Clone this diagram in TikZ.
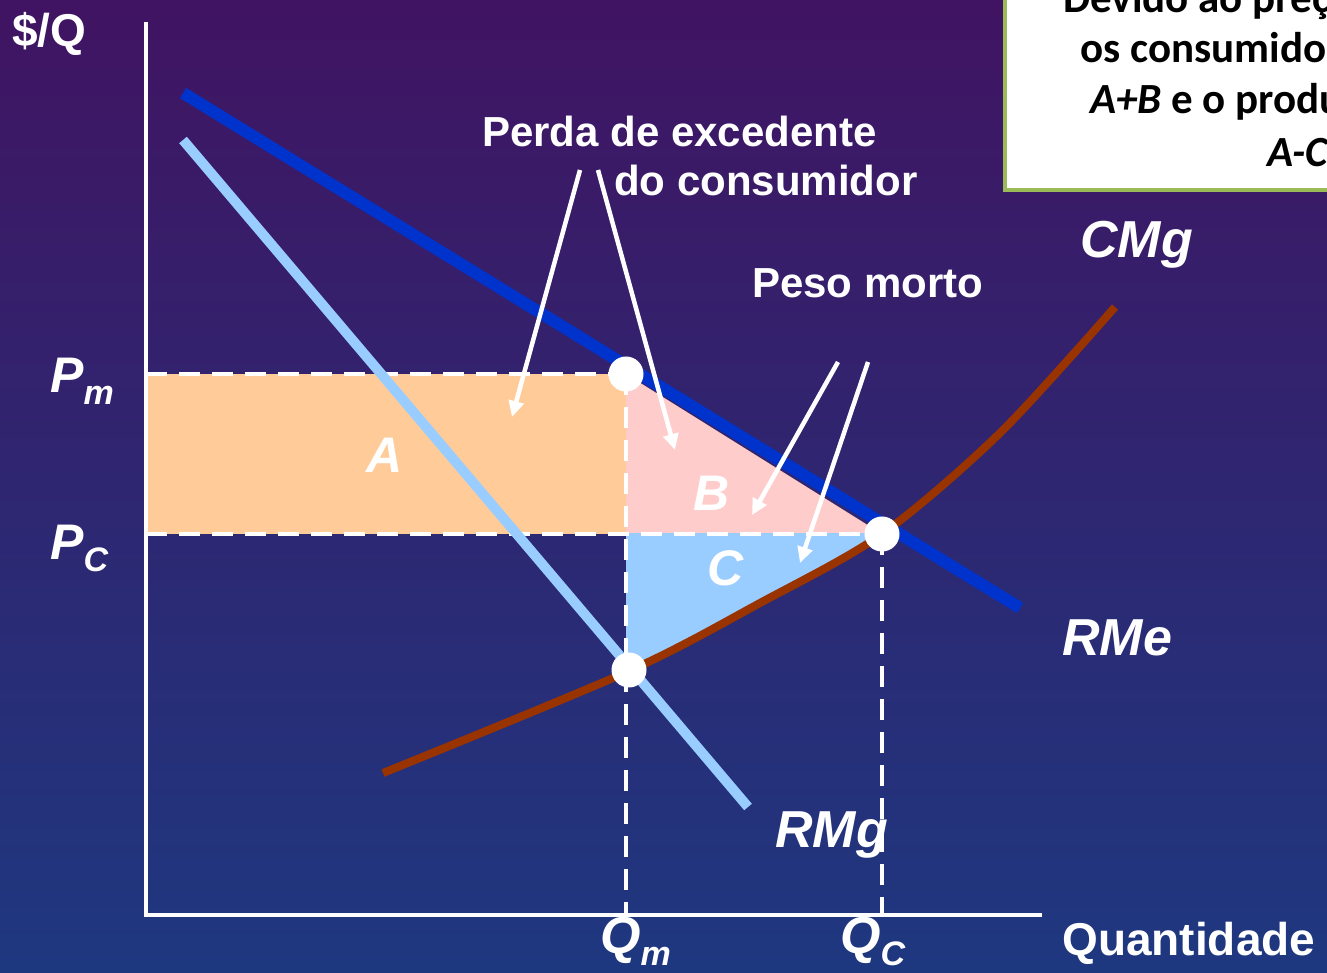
\documentclass[tikz,border=0pt]{standalone}
\usepackage{fontspec}
\setmainfont{Liberation Sans}
\newfontfamily\boxfont{Carlito}
\usetikzlibrary{arrows.meta}
\definecolor{bgtop}{RGB}{64,20,98}
\definecolor{bgmid}{RGB}{46,30,108}
\definecolor{bgbot}{RGB}{30,56,128}
\definecolor{rme}{RGB}{0,51,204}
\definecolor{rmg}{RGB}{153,204,255}
\definecolor{cmg}{RGB}{153,51,0}
\definecolor{areaA}{RGB}{255,204,153}
\definecolor{areaB}{RGB}{255,204,204}
\definecolor{areaC}{RGB}{153,204,255}
\definecolor{boxline}{RGB}{155,187,89}
\tikzset{
	lbl/.style={text=white, inner sep=0pt, anchor=base west, font=\fontsize{42}{48}\selectfont\bfseries},
	ilbl/.style={text=white, inner sep=0pt, anchor=base west, font=\fontsize{52}{56}\selectfont\bfseries\itshape},
	area/.style={text=white, inner sep=0pt, font=\fontsize{50}{54}\selectfont\bfseries\itshape},
	boxtxt/.style={text=black, inner sep=0pt, anchor=base west, font=\fontsize{43}{48}\selectfont\boxfont\bfseries},
	dashline/.style={white, line width=4.5pt, dash pattern=on 21pt off 12pt},
	pointer/.style={white, line width=4.5pt, -{Triangle[length=16pt,width=15pt]}},
	dot/.style={circle, fill=white, inner sep=0pt, minimum size=35pt},
}
\def\lowsub#1{\raisebox{-12pt}{\fontsize{34}{34}\selectfont #1}}

\begin{document}
\begin{tikzpicture}[x=1pt,y=1pt]
				\shade[top color=bgtop, middle color=bgmid, bottom color=bgbot] (0,0) rectangle (1327,973);
				\useasboundingbox (0,0) rectangle (1327,973);
				
				\coordinate (O) at (146,58);
				\coordinate (Ytop) at (146,951);
				\coordinate (Xend) at (1042,58);
				\coordinate (Pm) at (146,599);
				\coordinate (Pc) at (146,439);
				\coordinate (Qm) at (626,58);
				\coordinate (Qc) at (882,58);
				\coordinate (Mid) at (626,439);
				
				% areas A, B, C
				\fill[areaA] (Pc) rectangle (626,599);
				\fill[areaB] (626,599) -- (882,439) -- (Mid) -- cycle;
				\begin{scope}
					\clip (Mid) rectangle (882,200);
					\fill[areaC] plot[smooth] coordinates {(383,200) (629,302) (760,370) (882,439) (1000,540) (1115,666)} -- (1115,973) -- (383,973) -- cycle;
				\end{scope}
				
				\draw[dashline] (Pm) -- (626,599);
				\draw[dashline] (Pc) -- (882,439);
				\draw[dashline] (626,599) -- (Qm);
				\draw[dashline] (882,439) -- (Qc);
				
				\draw[white, line width=4pt] (Ytop) -- (O) -- (Xend);
				
				\draw[rmg, line width=10pt] (183,833) -- (748,166);
				\draw[rme, line width=12pt] (183,880) -- (1020,365);
				\draw[cmg, line width=8pt] plot[smooth] coordinates {(383,200) (629,302) (760,370) (882,439) (1000,540) (1115,666)};
				
				\coordinate (perdaL) at (580,803);
				\coordinate (perdaR) at (598,803);
				\coordinate (pesoL) at (838,611);
				\coordinate (pesoR) at (868,611);
				\coordinate (tipA) at (512,556);
				\coordinate (tipB) at (675,523);
				\coordinate (tipB2) at (752,458);
				\coordinate (tipC) at (800,410);
				\draw[pointer] (perdaL) -- (tipA);
				\draw[pointer] (perdaR) -- (tipB);
				\draw[pointer] (pesoL) -- (tipB2);
				\draw[pointer] (pesoR) -- (tipC);
				
				\node[dot] (mono) at (626,599) {};
				\node[dot] (comp) at (882,439) {};
				\node[dot] (cross) at (629,303) {};
				
				\node[lbl, font=\fontsize{46}{50}\selectfont\bfseries] (yaxis) at (12,926) {\$/Q};
				\node[lbl, font=\fontsize{46}{50}\selectfont\bfseries] (xaxis) at (1062,17) {Quantidade};
				\node[lbl] (perda1) at (482,826) {Perda de excedente};
				\node[lbl] (perda2) at (614,777) {do consumidor};
				\node[lbl] (peso) at (752,675) {Peso morto};
				\node[ilbl] (cmglbl) at (1080,715) {CMg};
				\node[ilbl] (rmelbl) at (1062,317) {RMe};
				\node[ilbl] (rmglbl) at (775,125) {RMg};
				\node[ilbl, font=\fontsize{50}{54}\selectfont\bfseries\itshape] (pmlbl) at (50,580) {P\lowsub{m}};
				\node[ilbl, font=\fontsize{50}{54}\selectfont\bfseries\itshape] (pclbl) at (50,413) {P\lowsub{C}};
				\node[ilbl, font=\fontsize{52}{56}\selectfont\bfseries\itshape] (qmlbl) at (600,19) {Q\lowsub{m}};
				\node[ilbl, font=\fontsize{52}{56}\selectfont\bfseries\itshape] (qclbl) at (840,19) {Q\lowsub{C}};
				\node[area] (areaAlbl) at (385,518) {A};
				\node[area] (areaBlbl) at (712,480) {B};
				\node[area] (areaClbl) at (726,405) {C};
				
				\begin{scope}
					\clip (0,0) rectangle (1327,973);
					\fill[white] (1005,783) rectangle (1420,1010);
					\draw[boxline, line width=4pt] (1005,783) rectangle (1420,1010);
					\node[boxtxt] (note1) at (1063,960) {Devido ao preço};
					\node[boxtxt] (note2) at (1080,910) {os consumidores};
					\node[boxtxt] (note3) at (1090,859) {\itshape A+B\upshape{} e o produtor};
					\node[boxtxt] (note4) at (1267,806) {\itshape A-C};
				\end{scope}
			\end{tikzpicture}
\end{document}
